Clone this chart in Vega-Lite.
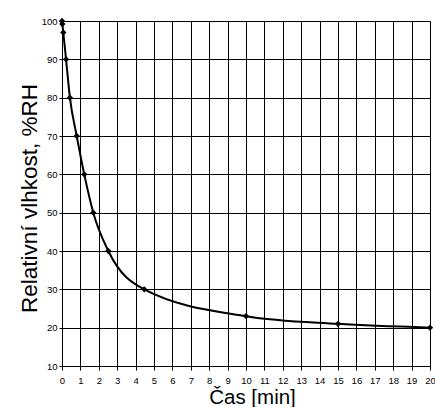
{
  "$schema": "https://vega.github.io/schema/vega-lite/v6.json",
  "autosize": "none",
  "padding": {"left": 62, "top": 21, "right": 5, "bottom": 41},
  "width": 368,
  "height": 345,
  "background": "white",
  "data": {"values": [
    {"t": 0, "rh": 100},
    {"t": 0.02, "rh": 99.2},
    {"t": 0.07, "rh": 97},
    {"t": 0.22, "rh": 90},
    {"t": 0.43, "rh": 80},
    {"t": 0.8, "rh": 70},
    {"t": 1.21, "rh": 60},
    {"t": 1.7, "rh": 50},
    {"t": 2.52, "rh": 40},
    {"t": 4.47, "rh": 30},
    {"t": 10, "rh": 23},
    {"t": 15, "rh": 21},
    {"t": 20, "rh": 20}
  ]},
  "config": {
    "view": {"stroke": null},
    "font": "Liberation Sans",
    "axis": {
      "grid": true,
      "gridColor": "#000000",
      "gridOpacity": 1,
      "gridWidth": 1,
      "domainColor": "#000000",
      "domainWidth": 1,
      "tickColor": "#000000",
      "tickSize": 4,
      "labelFont": "Liberation Sans",
      "labelFontSize": 9.5,
      "labelColor": "#000000",
      "labelOverlap": false,
      "labelBound": false,
      "titleFont": "Liberation Sans",
      "titleFontSize": 20.5,
      "titleFontWeight": "normal",
      "titleColor": "#000000"
    }
  },
  "encoding": {
    "x": {"field": "t", "type": "quantitative",
      "scale": {"domain": [0, 20], "nice": false},
      "axis": {"title": "Čas [min]", "values": [0,1,2,3,4,5,6,7,8,9,10,11,12,13,14,15,16,17,18,19,20],
        "format": "d", "labelPadding": 5, "titleY": 37, "titleX": 190, "titleBaseline": "alphabetic", "labelFlush": false}},
    "y": {"field": "rh", "type": "quantitative",
      "scale": {"domain": [10, 100], "nice": false, "zero": false},
      "axis": {"title": "Relativní vlhkost, %RH", "values": [10,20,30,40,50,60,70,80,90,100],
        "labelPadding": 2, "tickSize": 3, "titleX": -26, "titleY": 177, "titleFontSize": 22.5, "titleAlign": "center", "titleBaseline": "alphabetic", "titleAngle": 270, "labelFlush": false}}
  },
  "layer": [
    {
      "mark": {"type": "line", "interpolate": "monotone", "color": "#000000", "strokeWidth": 2}
    },
    {
      "mark": {"type": "point", "shape": "diamond", "filled": true, "color": "#000000", "size": 40, "opacity": 1}
    }
  ]
}
